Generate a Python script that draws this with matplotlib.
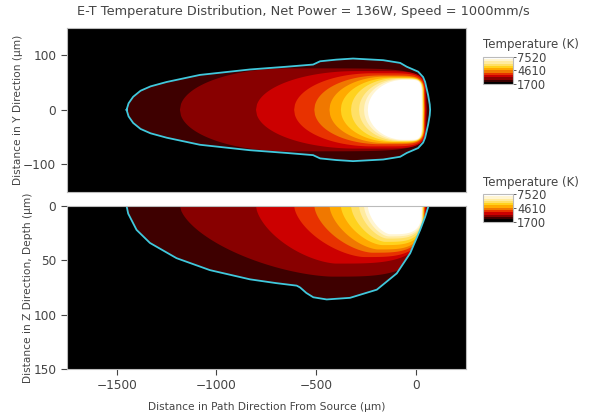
import numpy as np
import matplotlib
matplotlib.use("Agg")
import matplotlib.pyplot as plt
from matplotlib.colors import ListedColormap, BoundaryNorm
from matplotlib.cm import ScalarMappable
from matplotlib.patches import Polygon

# temperature range shown on the colour bars (K)
t_min = 1700
t_max = 7520
cbar_ticks = [1700, 4610, 7520]

# band colours, coldest first (black = below the first isotherm)
band_colors = ['#000000', '#3e0000', '#880000', '#cc0000', '#e83200', '#f07800',
               '#ffaa00', '#ffd21e', '#ffe066', '#ffeba0', '#fff5d2', '#ffffff']

# melt pool outline, top view (upper half, x in um, y in um)
outline_top_x = [-1450, -1440, -1417, -1380, -1330, -1250, -1083, -832, -650, -516,
                 -481, -400, -316, -165, -80, -47, 10, 35, 45, 60, 68, 70]
outline_top_y = [0, 12, 24, 35, 43, 51, 64, 74, 79, 83,
                 89, 92, 94, 91, 86, 79, 70, 60, 51, 27, 10, 0]

# melt pool outline, side view (x in um, depth in um)
outline_side_x = [-1450, -1442, -1400, -1333, -1200, -1033, -832, -700, -598, -581,
                  -550, -515, -448, -331, -197, -97, -30, 20, 45, 62]
outline_side_z = [0, 7, 22, 34, 48, 59, 67.5, 71, 73.3, 75,
                  80, 84, 86, 84.5, 77, 62, 43.5, 22, 10, 0]

# inner isotherms (from the 3rd band colour up): tail, widest point, half width, front
iso_tail = [-1183, -802, -611, -510, -434, -377, -326, -286, -261, -242]
iso_top_xc = [-640, -300, -220, -180, -150, -120, -100, -80, -70, -60]
iso_width = [76, 71, 67, 63, 61, 59, 58, 57, 56, 55]
iso_front = [55, 50, 45, 42, 40, 38, 35, 33, 31, 28]
iso_side_xc = [-420, -400, -260, -220, -190, -170, -155, -145, -138, -130]
iso_depth = [65, 53, 47, 43, 40, 36, 33, 30, 28, 26]

outline_color = '#40c8dc'
text_color = '#444444'


def bullet(tail, xc, front, w, p_rear, p_front, n=100):
    # rear part from tail to widest point, front part from widest point to the front
    xr = np.linspace(tail, xc, n)
    tr = (xc - xr) / (xc - tail)
    yr = w * np.clip(1 - tr ** p_rear, 0, None) ** (1 / p_rear)
    xf = np.linspace(xc, front, n)[1:]
    tf = (xf - xc) / (front - xc)
    yf = w * np.clip(1 - tf ** p_front, 0, None) ** (1 / p_front)
    return np.concatenate([xr, xf]), np.concatenate([yr, yf])


plt.rcParams['font.family'] = 'DejaVu Sans'
fig = plt.figure(figsize=(5.89, 4.19), dpi=100)

ax1 = fig.add_axes([0.1132, 0.5425, 0.6781, 0.3907])
ax2 = fig.add_axes([0.1132, 0.1193, 0.6781, 0.3891])

for ax in (ax1, ax2):
    ax.set_facecolor('black')
    for s in ax.spines.values():
        s.set_color('#bbbbbb')
        s.set_linewidth(0.8)
    ax.tick_params(colors=text_color, labelsize=8.7, length=4, width=0.8)
    ax.set_xlim(-1750, 250)

# top view
ox = np.array(outline_top_x)
oy = np.array(outline_top_y)
px = np.concatenate([ox, ox[::-1]])
py = np.concatenate([oy, -oy[::-1]])
ax1.fill(px, py, color=band_colors[1], lw=0)
clip1 = Polygon(np.column_stack([px, py]), closed=True, transform=ax1.transData)
for i in range(len(iso_tail)):
    x, y = bullet(iso_tail[i], iso_top_xc[i], iso_front[i], iso_width[i], 2, 6)
    for p in ax1.fill(np.concatenate([x, x[::-1]]), np.concatenate([y, -y[::-1]]),
                      color=band_colors[i + 2], lw=0):
        p.set_clip_path(clip1)
ax1.plot(px, py, color=outline_color, lw=1.3)
ax1.set_ylim(-150, 150)
ax1.set_yticks([-100, 0, 100])
ax1.set_xticks([-1500, -1000, -500, 0])
ax1.tick_params(axis='x', labelbottom=False, length=0)
ax1.set_ylabel('Distance in Y Direction (µm)', color=text_color, fontsize=7.7, labelpad=0)

# side view
ax2.fill(outline_side_x, outline_side_z, color=band_colors[1], lw=0)
clip2 = Polygon(np.column_stack([outline_side_x, outline_side_z]), closed=True,
                transform=ax2.transData)
for i in range(len(iso_tail)):
    x, z = bullet(iso_tail[i], iso_side_xc[i], iso_front[i], iso_depth[i], 1.6, 3.5)
    for p in ax2.fill(x, z, color=band_colors[i + 2], lw=0):
        p.set_clip_path(clip2)
ax2.plot(outline_side_x, outline_side_z, color=outline_color, lw=1.3)
ax2.set_ylim(150, 0)
ax2.set_yticks([0, 50, 100, 150])
ax2.set_xticks([-1500, -1000, -500, 0])
ax2.set_ylabel('Distance in Z Direction, Depth (µm)', color=text_color, fontsize=7.7, labelpad=0)
ax2.set_xlabel('Distance in Path Direction From Source (µm)', color=text_color,
               fontsize=7.7, labelpad=7)

fig.text(0.515, 0.972, 'E-T Temperature Distribution, Net Power = 136W, Speed = 1000mm/s',
         ha='center', va='center', color=text_color, fontsize=9.3)

# colour bars
levels = np.linspace(t_min, t_max, len(band_colors) + 1)
sm = ScalarMappable(norm=BoundaryNorm(levels, len(band_colors)), cmap=ListedColormap(band_colors))
for top in (56.7, 194):
    cax = fig.add_axes([483 / 589, 1 - (top + 27.5) / 419, 30 / 589, 27.5 / 419])
    cb = fig.colorbar(sm, cax=cax, ticks=cbar_ticks)
    cb.minorticks_off()
    cb.outline.set_edgecolor('#bbbbbb')
    cb.outline.set_linewidth(0.8)
    cax.tick_params(labelsize=8.3, colors=text_color, length=2, width=0.6, pad=1)
    fig.text(483 / 589, 1 - (top - 12) / 419, 'Temperature (K)', ha='left', va='center',
             color=text_color, fontsize=8.5)

fig.savefig('out.png', dpi=100)
